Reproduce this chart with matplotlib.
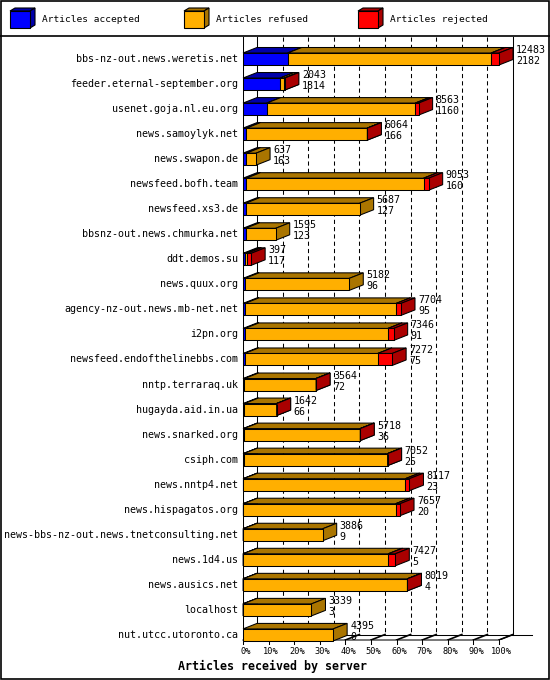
import numpy as np
import matplotlib.pyplot as plt
from matplotlib.patches import Polygon, Rectangle

servers = ["bbs-nz-out.news.weretis.net", "feeder.eternal-september.org",
           "usenet.goja.nl.eu.org", "news.samoylyk.net", "news.swapon.de",
           "newsfeed.bofh.team", "newsfeed.xs3.de", "bbsnz-out.news.chmurka.net",
           "ddt.demos.su", "news.quux.org", "agency-nz-out.news.mb-net.net",
           "i2pn.org", "newsfeed.endofthelinebbs.com", "nntp.terraraq.uk",
           "hugayda.aid.in.ua", "news.snarked.org", "csiph.com", "news.nntp4.net",
           "news.hispagatos.org", "news-bbs-nz-out.news.tnetconsulting.net",
           "news.1d4.us", "news.ausics.net", "localhost", "nut.utcc.utoronto.ca"]
total = np.array([12483, 2043, 8563, 6064, 637, 9053, 5687, 1595, 397, 5182, 7704,
                  7346, 7272, 3564, 1642, 5718, 7052, 8117, 7657, 3886, 7427, 8019,
                  3339, 4395])
accepted = np.array([2182, 1814, 1160, 166, 163, 160, 127, 123, 117, 96, 95, 91, 75,
                     72, 66, 36, 25, 23, 20, 9, 5, 4, 3, 0])
# rejected counts estimated from the red part of each bar
rejected = np.array([380, 20, 160, 5, 0, 245, 0, 0, 190, 0, 230, 275, 700, 5, 5, 5,
                     5, 195, 210, 0, 340, 5, 0, 0])
refused = total - accepted - rejected

labels_pct = [f"{p}%" for p in range(0, 101, 10)]

front_cols = ['#0000ff', '#ffaf00', '#ff0000']
dark_cols = ['#0000aa', '#aa7500', '#aa0000']
legend_names = ['Articles accepted', 'Articles refused', 'Articles rejected']

mono = 'DejaVu Sans Mono'
W, Hpx = 550, 680
fig = plt.figure(figsize=(W / 100, Hpx / 100), dpi=100)

# frame / legend layer in pixel units
fa = fig.add_axes([0, 0, 1, 1], zorder=0)
fa.set_xlim(0, W)
fa.set_ylim(Hpx, 0)
fa.axis('off')
fa.add_patch(Rectangle((0.5, 0.5), W - 1.5, Hpx - 1.5, fill=False, lw=1.2, ec='black'))
fa.plot([0, W], [35.5, 35.5], color='black', lw=1.2)
for k, (fc, dc, name) in enumerate(zip(front_cols, dark_cols, legend_names)):
    x0 = 10 + 174 * k
    pts_top = [(x0, 11), (x0 + 20, 11), (x0 + 25, 8), (x0 + 5, 8)]
    pts_side = [(x0 + 20, 11), (x0 + 25, 8), (x0 + 25, 25), (x0 + 20, 28)]
    fa.add_patch(Polygon(pts_top, closed=True, fc=dc, ec='black', lw=0.8))
    fa.add_patch(Polygon(pts_side, closed=True, fc=dc, ec='black', lw=0.8))
    fa.add_patch(Rectangle((x0, 11), 20, 17, fc=fc, ec='black', lw=0.8))
    fa.text(x0 + 32, 20, name, family=mono, fontsize=6.8, va='center', ha='left')
fa.text(273, 666, 'Articles received by server', family=mono, fontsize=8.4,
        fontweight='bold', ha='center', va='center')

# chart layer: x in percent of the busiest server, y in rows
px_per_pct = 2.56
row_px = 25.04
ax = fig.add_axes([243 / W, (Hpx - 640) / Hpx, (W - 243) / W, (640 - 37) / Hpx], zorder=1)
ax.patch.set_visible(False)
ax.axis('off')
ax.set_xlim(0, (W - 243) / px_per_pct)
y_floor = (640 - 59) / row_px
ax.set_ylim(y_floor, (37 - 59) / row_px)

DX = 14 / px_per_pct
DY = 5.5 / row_px
H = 6 / row_px
lw = 0.75

# walls, floor and grid
ytop = (37 - 59) / row_px
ax.plot([0, 0], [ytop, y_floor], color='black', lw=lw, zorder=2)
ax.plot([DX, DX], [ytop, y_floor - DY], color='black', lw=lw, zorder=1)
ax.plot([100 + DX, 100 + DX], [ytop, y_floor - DY], color='black', lw=lw, zorder=1)
ax.plot([0, 100, 100 + DX], [y_floor, y_floor, y_floor - DY], color='black', lw=lw,
        zorder=2, clip_on=False)
ax.plot([DX, 100 + DX + 19 / px_per_pct], [y_floor - DY, y_floor - DY], color='black',
        lw=lw, zorder=1, clip_on=False)
for p in range(10, 100, 10):
    ax.plot([p + DX, p + DX], [ytop, y_floor - DY], color='black', lw=lw,
            dashes=(4, 3), zorder=1)
for p in range(0, 101, 10):
    ax.plot([p, p + DX], [y_floor, y_floor - DY], color='black', lw=1.2, zorder=1)
    ax.plot([p, p], [y_floor, y_floor + 4 / row_px], color='black', lw=lw,
            clip_on=False)
for p, lab in zip(range(0, 101, 10), labels_pct):
    ax.text(p + 1, (652 - 59) / row_px, lab, family=mono, fontsize=6.2,
            ha='center', va='center', clip_on=False)


def box(x0, x1, y, fc, dc):
    top = [(x0, y - H), (x1, y - H), (x1 + DX, y - H - DY), (x0 + DX, y - H - DY)]
    side = [(x1, y - H), (x1 + DX, y - H - DY), (x1 + DX, y + H - DY), (x1, y + H)]
    front = [(x0, y - H), (x1, y - H), (x1, y + H), (x0, y + H)]
    for pts, c in ((top, dc), (side, dc), (front, fc)):
        ax.add_patch(Polygon(pts, closed=True, fc=c, ec='black', lw=lw, zorder=3,
                             clip_on=False))


scale = 100.0 / total.max()
for i, name in enumerate(servers):
    parts = [accepted[i], refused[i], rejected[i]]
    x = 0.0
    for k, v in enumerate(parts):
        if v <= 0:
            continue
        w = v * scale
        box(x, x + w, i, front_cols[k], dark_cols[k])
        x += w
    ax.text(-5 / px_per_pct, i, name, family=mono, fontsize=7.2, ha='right',
            va='center', clip_on=False)
    xt = total[i] * scale + DX + 3 / px_per_pct
    ax.text(xt, i - 9 / row_px, str(total[i]), family=mono, fontsize=7.2,
            ha='left', va='center', clip_on=False, zorder=4)
    ax.text(xt, i + 2 / row_px, str(accepted[i]), family=mono, fontsize=7.2,
            ha='left', va='center', clip_on=False, zorder=4)

fig.savefig('out.png', dpi=100)
